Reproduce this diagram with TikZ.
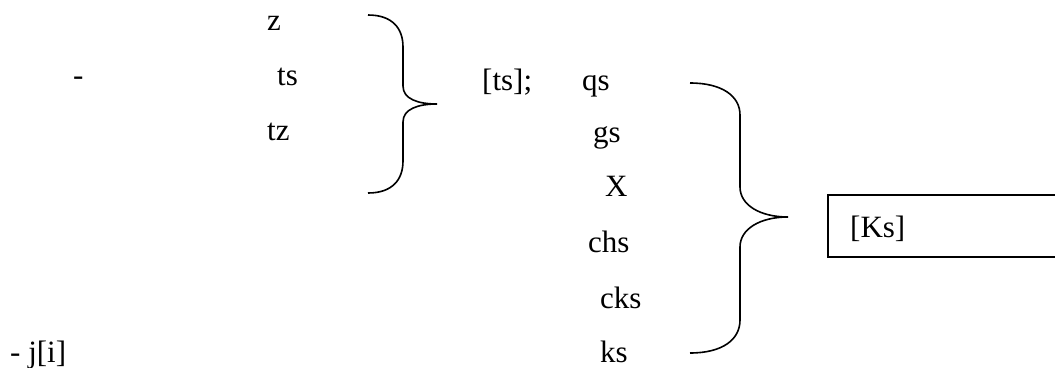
\documentclass[tikz,border=0pt]{standalone}
\usepackage{fontspec}
\setmainfont{Liberation Serif}
\usepackage{tikz}
\usetikzlibrary{positioning}

\begin{document}
\begin{tikzpicture}[x=1pt,y=-1pt,
    txt/.style={anchor=base west,inner sep=0pt,font=\fontsize{31}{36}\selectfont},
    brace/.style={line width=1.6pt}]
  \useasboundingbox (0,0) rectangle (1055,367);
  % left column
  \node[txt] (dash) at (73,85) {-};
  \node[txt] (z) at (267,30) {z};
  \node[txt] (ts) at (277,85) {ts};
  \node[txt] (tz) at (267,140) {tz};
  \node[txt] (jdash) at (10,362) {- j[i]};
  % first brace
  \draw[brace] (368,15) .. controls (392,15) and (403,28) .. (403,47) -- (403,86)
    .. controls (403,99) and (418,104) .. (437,104)
    .. controls (418,104) and (403,109) .. (403,122) -- (403,161)
    .. controls (403,180) and (392,193) .. (368,193);
  % middle column
  \node[txt] (tsb) at (482,90) {[ts];};
  \node[txt] (qs) at (582,90) {qs};
  \node[txt] (gs) at (593,142) {gs};
  \node[txt] (X) at (605,196) {X};
  \node[txt] (chs) at (588,252) {chs};
  \node[txt] (cks) at (600,308) {cks};
  \node[txt] (ks) at (600,362) {ks};
  % second brace
  \draw[brace] (690,83) .. controls (722,83) and (740,96) .. (740,115) -- (740,187)
    .. controls (740,205) and (760,217) .. (788,217)
    .. controls (760,217) and (740,229) .. (740,247) -- (740,320)
    .. controls (740,340) and (722,353) .. (690,353);
  % result box
  \draw[brace] (1055,195) -- (828,195) -- (828,257) -- (1055,257);
  \node[txt] (Ks) at (850,237) {[Ks]};
\end{tikzpicture}
\end{document}
